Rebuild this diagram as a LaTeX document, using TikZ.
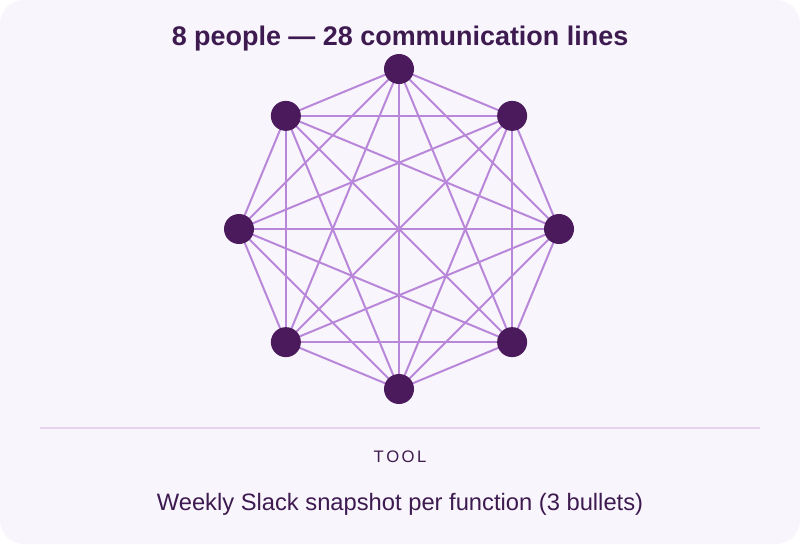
\documentclass[tikz,border=0pt]{standalone}
\usepackage{fontspec}
\setmainfont{Liberation Sans}
\usetikzlibrary{positioning}
\definecolor{cardBg}{HTML}{F9F5FC}
\definecolor{personPurple}{HTML}{4A1A5C}
\definecolor{linePurple}{HTML}{B987D9}
\definecolor{textPurple}{HTML}{3D1A4F}
\definecolor{ruleLilac}{HTML}{E6D3EE}
\tikzset{
  person/.style={circle, fill=personPurple, minimum size=22.5pt, inner sep=0pt},
  link/.style={draw=linePurple, line width=1.5pt},
}
\begin{document}
\begin{tikzpicture}[x=0.75pt, y=-0.75pt]
     % Card.
     \useasboundingbox (0,0) rectangle (800,544);
     \fill [white] (0,0) rectangle (800,544);
     \fill [cardBg, rounded corners=18pt] (0,0) rectangle (800,544);
     % Title.
     \node (title) at (400,39) {\fontsize{20.2}{24}\selectfont\bfseries\color{textPurple}8 people — 28 communication lines};
     % People around the circle.
     \foreach \i in {1,...,8} {
       \coordinate (c\i) at ({399+160*cos(90-45*(\i-1))},{229-160*sin(90-45*(\i-1))});
     }
     % Communication lines.
     \foreach \i in {1,...,7} {
       \pgfmathtruncatemacro{\first}{\i+1}
       \foreach \j in {\first,...,8} {
         \draw [link] (c\i) -- (c\j);
       }
     }
     \foreach \i in {1,...,8} {
       \node [person] (p\i) at (c\i) {};
     }
     % Footer.
     \draw [ruleLilac, line width=1pt] (40,428) coordinate (ruleL) -- (760,428) coordinate (ruleR);
     \node (tool) at (400,457) {\fontsize{12.5}{15}\selectfont\color{textPurple}T\hspace{1.8pt}O\hspace{1.8pt}O\hspace{1.8pt}L};
     \node (desc) at (400,504) {\fontsize{17.8}{21}\selectfont\color{textPurple}Weekly Slack snapshot per function (3 bullets)};
\end{tikzpicture}
\end{document}
